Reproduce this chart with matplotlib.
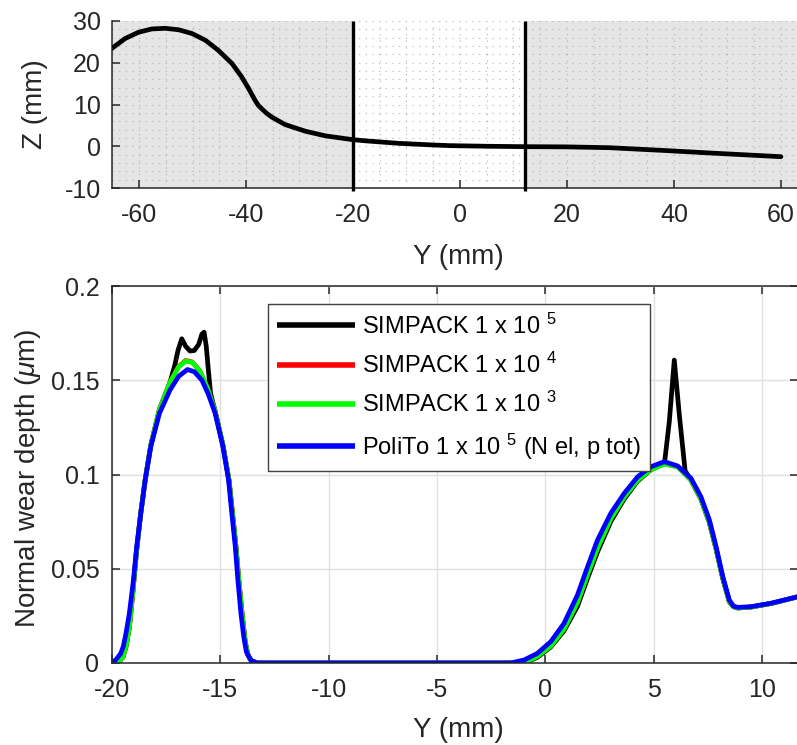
import matplotlib
matplotlib.use("Agg")
import matplotlib.pyplot as plt

plt.rcParams['font.family'] = ['Liberation Sans', 'DejaVu Sans']
plt.rcParams['mathtext.fontset'] = 'custom'
plt.rcParams['mathtext.rm'] = 'Liberation Sans'
plt.rcParams['mathtext.it'] = 'Liberation Sans:italic'
plt.rcParams['axes.unicode_minus'] = False
plt.rcParams['lines.solid_joinstyle'] = 'round'
plt.rcParams['lines.solid_capstyle'] = 'round'

# ---- profile (top panel) ----
prof_y = [-65.1, -62.6, -60.1, -57.6, -55.1, -52.6, -50.1, -47.6, -45.2, -42.6,
          -40.8, -39.5, -38.9, -38.3, -37.7, -37.0, -36.1, -35.2, -32.7, -28.9,
          -25.2, -20.2, -17.7, -11.5, -5.0, -2.0, 5.0, 12.1, 20.0, 28.0, 38.0,
          48.0, 60.0]
prof_z = [23.4, 25.8, 27.3, 28.1, 28.25, 27.9, 27.0, 25.4, 23.0, 19.8,
          16.6, 13.8, 12.4, 11.0, 9.8, 8.9, 7.85, 7.0, 5.2, 3.6,
          2.5, 1.6, 1.3, 0.7, 0.3, 0.15, 0.0, -0.1, -0.15, -0.35, -1.0,
          -1.7, -2.5]
contact_limits = [-20.0, 12.1]

# ---- wear depth (bottom panel) ----
y_polito = [-20, -19.8, -19.6, -19.48, -19.35, -19.2, -19.01, -18.86, -18.67, -18.47,
            -18.21, -17.81, -17.32, -16.93, -16.52, -16.2, -15.85, -15.55, -15.24,
            -14.88, -14.62, -14.47, -14.31, -14.19, -14.05, -13.92, -13.8, -13.6,
            -13.3, -1.6, -0.98, -0.37, 0.25, 0.86, 1.48, 1.95, 2.41, 3.02, 3.64,
            4.26, 4.87, 5.49, 6.11, 6.72, 7.18, 7.57, 7.88, 8.19, 8.49, 8.68, 8.88,
            9.5, 10.42, 11.67]
w_polito = [0.0, 0.002, 0.005, 0.0087, 0.016, 0.0263, 0.044, 0.0617, 0.0794, 0.097,
            0.1148, 0.1325, 0.1449, 0.152, 0.1557, 0.1545, 0.150, 0.1425, 0.1325,
            0.1148, 0.097, 0.0794, 0.0617, 0.044, 0.0263, 0.014, 0.006, 0.0015,
            0.0, 0.0, 0.0016, 0.0051, 0.0113, 0.021, 0.036, 0.0511, 0.0653, 0.0794,
            0.090, 0.0988, 0.1041, 0.1068, 0.1045, 0.098, 0.0882, 0.0759, 0.0617,
            0.0458, 0.0334, 0.0302, 0.0295, 0.0299, 0.0317, 0.0352]

y_simpack = [-20, -19.7, -19.5, -19.35, -19.2, -19.05, -18.88, -18.68, -18.47, -18.21,
             -17.81, -17.32, -16.93, -16.6, -16.3, -15.95, -15.6, -15.24, -14.88,
             -14.6, -14.44, -14.28, -14.15, -14.0, -13.85, -13.72, -13.55, -13.3,
             -1.2, -0.8, -0.37, 0.25, 0.86, 1.48, 1.95, 2.41, 3.02, 3.64, 4.26,
             4.87, 5.49, 6.11, 6.72, 7.18, 7.57, 7.88, 8.19, 8.49, 8.68, 8.88, 9.5,
             10.42, 11.67]
w_simpack_1e3 = [0.0, 0.0005, 0.003, 0.009, 0.019, 0.036, 0.058, 0.079, 0.097, 0.1155,
                 0.1345, 0.149, 0.157, 0.1602, 0.1595, 0.155, 0.146, 0.1335, 0.1155,
                 0.097, 0.0794, 0.0617, 0.044, 0.0263, 0.011, 0.004, 0.001, 0.0,
                 0.0, 0.001, 0.0035, 0.009, 0.018, 0.032, 0.047, 0.061, 0.0765, 0.088,
                 0.097, 0.1025, 0.1055, 0.104, 0.097, 0.087, 0.0745, 0.0605, 0.0448,
                 0.0325, 0.0299, 0.0292, 0.0297, 0.0316, 0.0352]
w_simpack_1e4 = [0.0, 0.0005, 0.003, 0.009, 0.019, 0.036, 0.058, 0.079, 0.097, 0.1155,
                 0.1345, 0.149, 0.1572, 0.1605, 0.1597, 0.155, 0.146, 0.1335, 0.1155,
                 0.097, 0.0794, 0.0617, 0.044, 0.0263, 0.011, 0.004, 0.001, 0.0,
                 0.0, 0.001, 0.0035, 0.009, 0.018, 0.032, 0.047, 0.061, 0.0765, 0.088,
                 0.097, 0.1026, 0.1057, 0.1041, 0.097, 0.087, 0.0745, 0.0605, 0.0448,
                 0.0325, 0.0299, 0.0292, 0.0297, 0.0316, 0.0352]

y_simpack_1e5 = [-20, -19.7, -19.5, -19.35, -19.2, -19.05, -18.88, -18.68, -18.47, -18.21,
                 -17.81, -17.32, -17.1, -16.95, -16.78, -16.6, -16.4, -16.2, -16.0,
                 -15.85, -15.75, -15.65, -15.55, -15.45, -15.24, -14.88,
                 -14.6, -14.44, -14.28, -14.15, -14.0, -13.85, -13.72, -13.55, -13.3,
                 -1.2, -0.8, -0.37, 0.25, 0.86, 1.48, 1.95, 2.41, 3.02, 3.64, 4.26,
                 4.87, 5.5, 5.72, 5.95, 6.18, 6.45, 6.72, 7.18, 7.57, 7.88, 8.19,
                 8.49, 8.68, 8.88, 9.5, 10.42, 11.67]
w_simpack_1e5 = [0.0, 0.0005, 0.003, 0.009, 0.019, 0.036, 0.058, 0.079, 0.097, 0.1155,
                 0.1345, 0.149, 0.158, 0.166, 0.172, 0.168, 0.1655, 0.1658, 0.169,
                 0.1745, 0.1755, 0.168, 0.155, 0.143, 0.1335, 0.1155,
                 0.097, 0.0794, 0.0617, 0.044, 0.0263, 0.011, 0.004, 0.001, 0.0,
                 0.0, 0.0008, 0.003, 0.0085, 0.017, 0.030, 0.045, 0.059, 0.075, 0.087,
                 0.0965, 0.1025, 0.1062, 0.128, 0.1607, 0.132, 0.102, 0.097, 0.087,
                 0.0745, 0.0605, 0.0448, 0.0325, 0.0299, 0.0292, 0.0297, 0.0316, 0.0352]

tick_col = '#262626'
W, H = 797, 745
fig = plt.figure(figsize=(W / 100, H / 100), dpi=100)

# ---------------- top panel ----------------
ax1 = fig.add_axes([112 / W, 1 - 188 / H, 686 / W, (188 - 21) / H])
xl1 = (-65.05, 63.2)
ax1.axvspan(xl1[0], contact_limits[0], color='#e5e5e5', lw=0, zorder=0)
ax1.axvspan(contact_limits[1], xl1[1], color='#e5e5e5', lw=0, zorder=0)
for gx in range(-65, 65, 5):
    ax1.axvline(gx, color='#b0b0b0', lw=0.8, ls=(0, (1, 5)), zorder=1)
for gz in range(-10, 31, 2):
    ax1.axhline(gz, color='#b0b0b0', lw=0.8, ls=(0, (1, 5)), zorder=1)
ax1.plot(prof_y, prof_z, color='black', lw=3.4, zorder=3)
for lim in contact_limits:
    ax1.axvline(lim, color='black', lw=2.4, zorder=4, clip_on=False, ymin=-0.02,
                solid_capstyle='butt')
ax1.set_xlim(*xl1)
ax1.set_ylim(-10, 30)
ax1.set_xticks([-60, -40, -20, 0, 20, 40, 60])
ax1.set_yticks([-10, 0, 10, 20, 30])
ax1.spines['top'].set_visible(False)
ax1.spines['right'].set_visible(False)
for s in ['left', 'bottom']:
    ax1.spines[s].set_color(tick_col)
    ax1.spines[s].set_linewidth(1.1)
ax1.tick_params(direction='in', length=6, width=1.1, colors=tick_col, labelsize=18)
ax1.tick_params(axis='x', pad=11)
ax1.tick_params(axis='y', pad=8)
ax1.set_xlabel('Y (mm)', fontsize=20, color=tick_col, va='center')
ax1.set_ylabel('Z (mm)', fontsize=20, color=tick_col, va='center')
ax1.xaxis.set_label_coords(0.505, -(257 - 188) / 167)
ax1.yaxis.set_label_coords((35 - 112) / 686, 0.5)

# ---------------- bottom panel ----------------
ax2 = fig.add_axes([112 / W, 1 - 663 / H, 686 / W, (663 - 286) / H])
ax2.plot(y_simpack_1e5, w_simpack_1e5, color='black', lw=3.4, label='SIMPACK 1 x 10 $^5$')
ax2.plot(y_simpack, w_simpack_1e4, color='#ff0000', lw=3.4, label='SIMPACK 1 x 10 $^4$')
ax2.plot(y_simpack, w_simpack_1e3, color='#00ff00', lw=3.4, label='SIMPACK 1 x 10 $^3$')
ax2.plot(y_polito, w_polito, color='#0000ff', lw=3.4,
         label='PoliTo 1 x 10 $^5$ (N el, p tot)')
ax2.set_xlim(-20, 11.66)
ax2.set_ylim(0, 0.2)
ax2.set_xticks([-20, -15, -10, -5, 0, 5, 10])
ax2.set_yticks([0, 0.05, 0.1, 0.15, 0.2])
ax2.set_yticklabels(['0', '0.05', '0.1', '0.15', '0.2'])
ax2.grid(True, color='#e0e0e0', lw=1.0)
ax2.set_axisbelow(True)
for s in ax2.spines.values():
    s.set_color(tick_col)
    s.set_linewidth(1.1)
ax2.tick_params(direction='in', length=6, width=1.1, colors=tick_col, labelsize=18,
                top=True, right=True)
ax2.tick_params(axis='x', pad=11)
ax2.tick_params(axis='y', pad=9)
ax2.set_xlabel('Y (mm)', fontsize=20, color=tick_col, va='center')
ax2.set_ylabel('Normal wear depth ($\\mu$m)', fontsize=20, color=tick_col, va='center')
ax2.xaxis.set_label_coords(0.505, -(730 - 663) / 377)
ax2.yaxis.set_label_coords((28 - 112) / 686, 0.49)
leg = ax2.legend(loc='upper left', bbox_to_anchor=(156 / 686, 1 - 18 / 377),
                 fontsize=17, handlelength=3.3, handletextpad=0.3, borderpad=0.4,
                 labelspacing=0.6, fancybox=False, framealpha=1, borderaxespad=0)
leg.get_frame().set_edgecolor('#404040')
leg.get_frame().set_linewidth(1.0)
for line in leg.get_lines():
    line.set_linewidth(4)
    line.set_solid_capstyle('butt')

fig.savefig('out.png', dpi=100)
